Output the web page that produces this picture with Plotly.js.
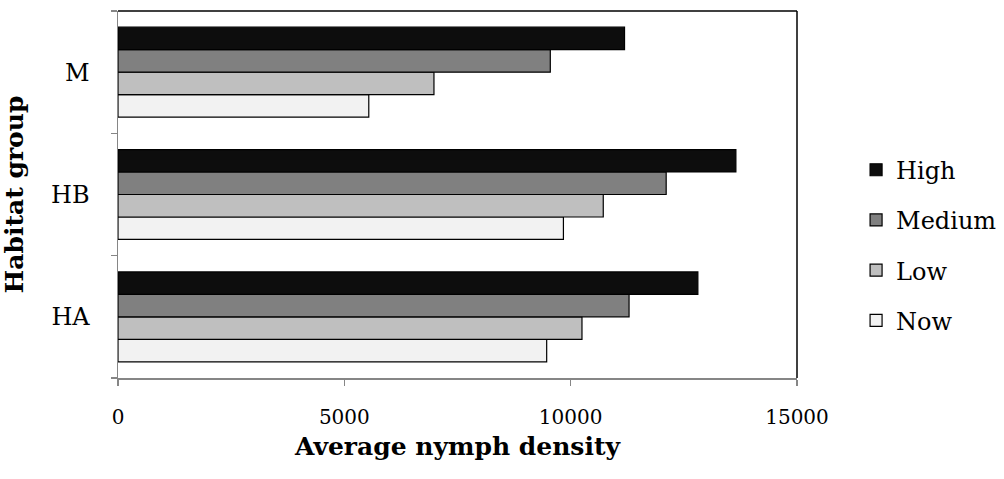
<!DOCTYPE html>
<html>
<head>
<meta charset="utf-8">
<script src="https://cdn.plot.ly/plotly-3.0.1.min.js"></script>
<style>html,body{margin:0;padding:0;background:#fff;}#chart{width:1004px;height:479px;}</style>
</head>
<body>
<div id="chart"></div>
<script>
var categories = ['HA', 'HB', 'M'];
var seriesNames = ['Now', 'Low', 'Medium', 'High'];
var nowValues = [9470, 9840, 5540];
var lowValues = [10250, 10720, 6980];
var mediumValues = [11290, 12110, 9550];
var highValues = [12810, 13650, 11190];
var xTickValues = [0, 5000, 10000, 15000];
var xTickLabels = ['0', '5000', '10000', '15000'];

var colors = ['#f2f2f2', '#bfbfbf', '#808080', '#0d0d0d'];
var valuesList = [nowValues, lowValues, mediumValues, highValues];
var FONT = 'DejaVu Serif, Liberation Serif, serif';

var traces = seriesNames.map(function (name, i) {
  return {
    type: 'bar',
    orientation: 'h',
    name: name,
    y: categories,
    x: valuesList[i],
    legendgroup: name,
    legendrank: seriesNames.length - i,
    marker: { color: colors[i], line: { color: '#000', width: 1.2 } },
    hoverinfo: 'x+name'
  };
});

var layout = {
  width: 1004,
  height: 479,
  margin: { l: 118, r: 207, t: 11, b: 101, autoexpand: false },
  paper_bgcolor: '#fff',
  plot_bgcolor: '#fff',
  barmode: 'group',
  bargap: 0.265,
  bargroupgap: 0,
  font: { family: FONT, color: '#000', size: 22 },
  xaxis: {
    range: [0, 15000],
    tickvals: xTickValues,
    ticktext: xTickLabels,
    showgrid: false,
    zeroline: false,
    showline: true,
    linecolor: '#868686',
    linewidth: 1.5,
    ticks: 'outside',
    ticklen: 6,
    tickcolor: '#868686',
    tickwidth: 1.5,
    ticklabelstandoff: 14,
    tickfont: { family: FONT, size: 20, color: '#000' },
    title: { text: '<b>Average nymph density</b>', font: { family: FONT, size: 25, color: '#000' }, standoff: 10 }
  },
  yaxis: {
    type: 'category',
    categoryorder: 'array',
    categoryarray: categories,
    range: [-0.5, 2.5],
    showgrid: false,
    zeroline: false,
    showline: true,
    linecolor: '#868686',
    linewidth: 1.5,
    ticks: 'outside',
    tickson: 'boundaries',
    ticklen: 6,
    tickcolor: '#868686',
    tickwidth: 1.5,
    ticklabelstandoff: 22,
    tickfont: { family: FONT, size: 24, color: '#000' },
    title: { text: '<b>Habitat group</b>', font: { family: FONT, size: 25, color: '#000' }, standoff: 22 }
  },
  legend: {
    x: 1.087,
    y: 0.362,
    xanchor: 'left',
    yanchor: 'middle',
    traceorder: 'grouped',
    tracegroupgap: 16,
    font: { family: FONT, size: 24, color: '#000' },
    itemwidth: 30,
    bgcolor: 'rgba(0,0,0,0)'
  },
  shapes: [
    { type: 'line', xref: 'paper', yref: 'paper', x0: 0, x1: 1, y0: 1, y1: 1, line: { color: '#000', width: 1.5 } },
    { type: 'line', xref: 'paper', yref: 'paper', x0: 1, x1: 1, y0: 0, y1: 1, line: { color: '#000', width: 1.5 } }
  ]
};

Plotly.newPlot('chart', traces, layout, { displayModeBar: false, staticPlot: true });
</script>
</body>
</html>
